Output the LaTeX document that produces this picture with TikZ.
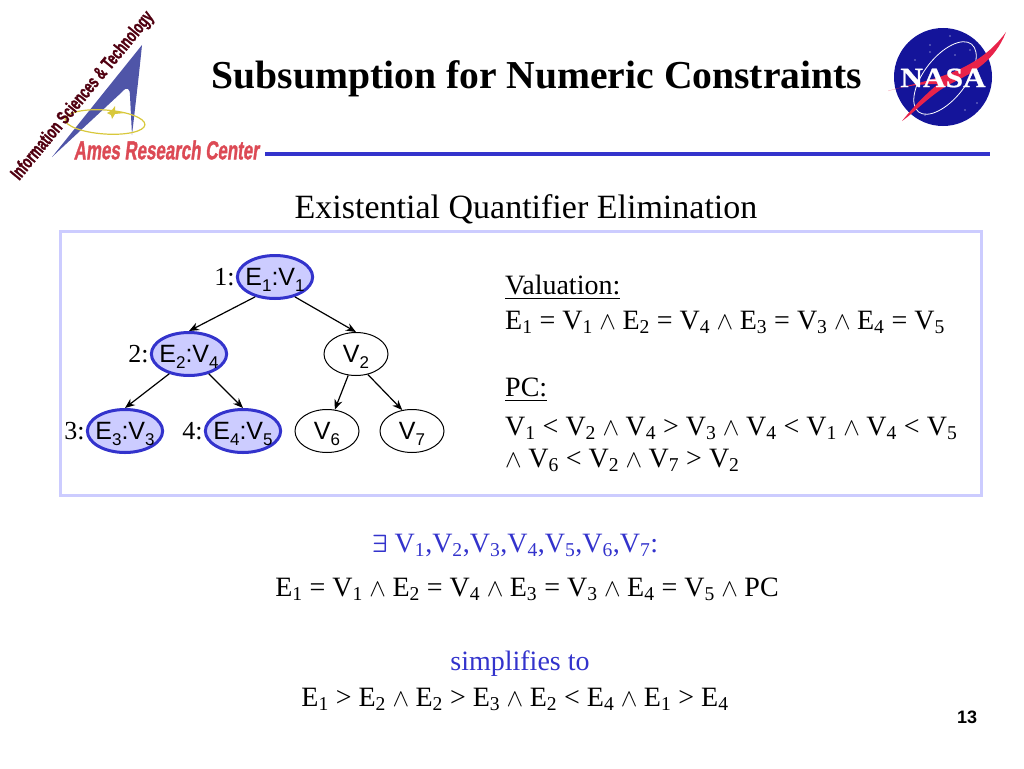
\documentclass[tikz,border=0pt]{standalone}
\usepackage{amsmath,amssymb}
\usepackage{fontspec}
\setmainfont{Liberation Serif}
\setsansfont{Liberation Sans}
\newfontfamily\logofont[FakeBold=1.6]{Liberation Sans Bold}
\newfontfamily\nasafont[FakeBold=0.8]{Liberation Serif Bold}
\usetikzlibrary{arrows.meta,positioning,shapes.geometric}
\definecolor{paleblue}{HTML}{CCCCFF}
\definecolor{ruleblue}{HTML}{3333CC}
\definecolor{deltablue}{HTML}{4F55A8}
\definecolor{nasablue}{HTML}{14149A}
\definecolor{nasared}{HTML}{E8234A}
\definecolor{amesred}{HTML}{DC4A55}
\definecolor{orbitgold}{HTML}{D8C83C}
\definecolor{wordred}{HTML}{500010}
\newcommand{\subs}[1]{\textsubscript{#1}}
\newcommand{\nsub}[1]{\smash{\raisebox{-6pt}{\fontsize{17}{17}\selectfont #1}}}
\newcommand{\aand}{\hspace{6.5pt}$\wedge$\hspace{6.5pt}}
\tikzset{
  textline/.style={anchor=base west, inner sep=0pt, font=\fontsize{28}{28}\selectfont},
  centreline/.style={anchor=base, inner sep=0pt, font=\fontsize{28}{28}\selectfont},
  plainvar/.style={draw, line width=1pt, ellipse, minimum width=64pt, minimum height=43pt, inner sep=0pt, font=\sffamily\fontsize{25}{25}\selectfont},
  boundvar/.style={plainvar, draw=ruleblue, line width=3pt, fill=paleblue, minimum width=75pt, inner xsep=-3pt},
  numlabel/.style={inner sep=0pt, font=\fontsize{26}{26}\selectfont},
  edge/.style={-{Stealth[length=10pt,width=8pt]}, line width=1.2pt},
}
\begin{document}
\begin{tikzpicture}[x=1pt, y=-1pt, >=Stealth]
  \useasboundingbox (0,0) rectangle (1024,768);
  % ames logo
  \fill[deltablue] (142,45) -- (52,157) -- (122,92) .. controls (127,86) and (130,88) .. (130,96) -- (132,135) .. controls (136,100) and (139,75) .. cycle;
  \draw[orbitgold, line width=1.2pt, rotate around={-4:(105,122)}] (105,122) ellipse (40 and 12);
  \fill[orbitgold] (107,113) -- (112,110) -- (115,106) -- (115,111) -- (125,113) -- (115,114) -- (112,119) -- (111,115) -- cycle;
  \node (ames) at (167.5,150) [inner sep=0pt, xslant=0.12, xscale=0.65, text=amesred, font=\logofont\fontsize{26}{26}\selectfont] {Ames Research Center};
  \node (ist) at (83,96) [inner sep=0pt, rotate=50.5, xscale=0.66, text=wordred, font=\logofont\fontsize{19}{19}\selectfont] {Information Sciences \& Technology};
  \draw[ruleblue, line width=4pt] (265,154) -- (990,154);
  % nasa logo
  \fill[nasablue] (943,77) circle (49);
  \draw[white, line width=0.8pt, rotate around={-38:(945,78)}] (945,78) ellipse (21 and 43);
  \foreach \sx/\sy in {930/45, 950/36, 970/50, 915/60, 925/115, 965/110, 977/103, 955/55, 905/85, 930/52}
    \fill[white] (\sx,\sy) circle (0.7);
  \fill[nasared] (888,91) .. controls (925,80) and (975,75) .. (1006,32) .. controls (995,60) and (975,72) .. (950,84) .. controls (930,95) and (915,112) .. (902,121) .. controls (915,105) and (925,95) .. (938,84) .. controls (920,84) and (905,86) .. cycle;
  \node (nasa) at (943,78) [inner sep=0pt, xscale=1.12, text=white, font=\nasafont\fontsize{28}{28}\selectfont] {NASA};
  % heading
  \node (title) at (537,88) [centreline, font=\bfseries\fontsize{39.6}{40}\selectfont] {Subsumption for Numeric Constraints};
  \node (subtitle) at (526,218) [centreline, font=\fontsize{34}{34}\selectfont] {Existential Quantifier Elimination};
  \draw[paleblue, line width=3pt] (60,231) rectangle (981,495);
  % tree
  \node[boundvar] (e1) at (275,277) {E\nsub{1}:V\nsub{1}};
  \node[boundvar] (e2) at (189,354) {E\nsub{2}:V\nsub{4}};
  \node[plainvar] (v2) at (356,354) {V\nsub{2}};
  \node[boundvar] (e3) at (125,431) {E\nsub{3}:V\nsub{3}};
  \node[boundvar] (e4) at (243,431) {E\nsub{4}:V\nsub{5}};
  \node[plainvar] (v6) at (327,431) {V\nsub{6}};
  \node[plainvar] (v7) at (412,431) {V\nsub{7}};
  \node[numlabel, left=1pt of e1] (n1) {1:};
  \node[numlabel, left=1pt of e2] (n2) {2:};
  \node[numlabel, left=1pt of e3] (n3) {3:};
  \node[numlabel, left=1pt of e4] (n4) {4:};
  \draw[edge] (e1.225) -- (e2.north);
  \draw[edge] (e1.-45) -- (v2.north);
  \draw[edge] (e2.225) -- (e3.north);
  \draw[edge] (e2.-45) -- (e4.north);
  \draw[edge] (v2.250) -- (v6.70);
  \draw[edge] (v2.-60) -- (v7.115);
  % valuation and pc
  \node[textline] (val) at (505,294) {\underline{Valuation:}};
  \node[textline] (valeq) at (505,329) {E\subs{1} = V\subs{1}\aand E\subs{2} = V\subs{4}\aand E\subs{3} = V\subs{3}\aand E\subs{4} = V\subs{5}};
  \node[textline] (pc) at (505,396) {\underline{PC:}};
  \node[textline] (pcone) at (505,435) {V\subs{1} < V\subs{2}\aand V\subs{4} > V\subs{3}\aand V\subs{4} < V\subs{1}\aand V\subs{4} < V\subs{5}};
  \node[textline] (pctwo) at (505,467) {$\wedge$\hspace{6.5pt}V\subs{6} < V\subs{2}\aand V\subs{7} > V\subs{2}};
  % bottom lines
  \node[centreline, text=ruleblue] (exists) at (515,552) {$\boldsymbol{\exists}$ V\subs{1},V\subs{2},V\subs{3},V\subs{4},V\subs{5},V\subs{6},V\subs{7}:};
  \node[centreline] (body) at (527,596) {E\subs{1} = V\subs{1}\aand E\subs{2} = V\subs{4}\aand E\subs{3} = V\subs{3}\aand E\subs{4} = V\subs{5}\aand PC};
  \node[centreline, text=ruleblue] (simp) at (520,670) {simplifies to};
  \node[centreline] (result) at (515,706) {E\subs{1} > E\subs{2}\aand E\subs{2} > E\subs{3}\aand E\subs{2} < E\subs{4}\aand E\subs{1} > E\subs{4}};
  \node (pageno) at (967,717) [inner sep=0pt, font=\sffamily\bfseries\fontsize{18}{18}\selectfont] {13};
\end{tikzpicture}
\end{document}
